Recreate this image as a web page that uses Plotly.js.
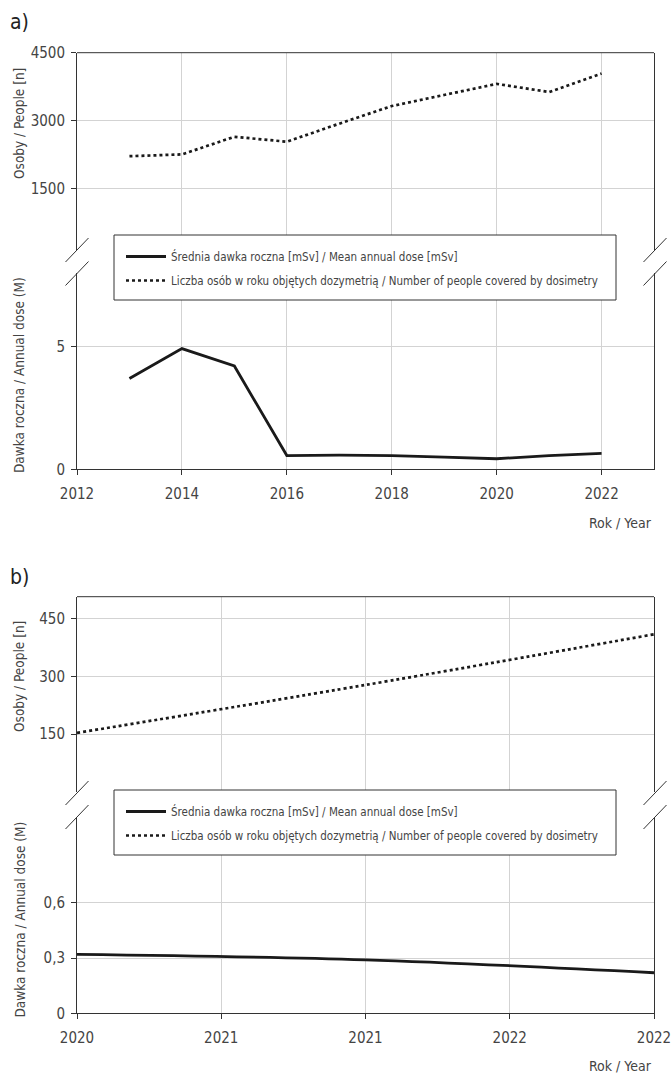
<!DOCTYPE html>
<html><head><meta charset="utf-8">
<script src="https://cdn.plot.ly/plotly-3.0.1.min.js"></script>
<style>html,body{margin:0;padding:0;background:#fff;}#chart{width:671px;height:1076px;}</style>
</head><body><div id="chart"></div>
<script>
// ---- data (panel a) ----
const yearsA = [2013, 2014, 2015, 2016, 2017, 2018, 2019, 2020, 2021, 2022];
const doseA = [3.70, 4.92, 4.21, 0.56, 0.58, 0.56, 0.50, 0.43, 0.56, 0.65];
const peopleA = [2210, 2250, 2640, 2530, 2930, 3320, 3565, 3810, 3630, 4040];
// ---- data (panel b) ----
const yearsB = [2020, 2021, 2022];
const doseB = [0.32, 0.29, 0.22];
const peopleB = [153, 278, 410];
// ---- ticks / labels ----
const xTicksA = [2012, 2014, 2016, 2018, 2020, 2022];
const xTickValsB = [2020, 2020.5, 2021, 2021.5, 2022];
const xTickTextB = ['2020', '2021', '2021', '2022', '2022'];
const yTicksPeopleA = [1500, 3000, 4500];
const yTicksDoseA = [0, 5];
const yTicksPeopleB = [150, 300, 450];
const yTicksDoseB = [0, 0.3, 0.6];
const yTickTextDoseB = ['0', '0,3', '0,6'];
const nameDose = 'Średnia dawka roczna [mSv] / Mean annual dose [mSv]';
const namePeople = 'Liczba osób w roku objętych dozymetrią / Number of people covered by dosimetry';
const titlePeople = 'Osoby / People [n]';
const titleDose = 'Dawka roczna / Annual dose (M)';
const titleX = 'Rok / Year';

const W = 671, H = 1076;
const fx = p => p / W;
const fy = p => 1 - p / H;
const FONT = "'DejaVu Sans Condensed', 'Liberation Sans Narrow', 'Liberation Sans', sans-serif";
const TXT = '#444';
const AX = '#333';
const LINE = '#1a1a1a';

const L = 77, R = 654;

const traces = [
  {x: yearsA, y: doseA, xaxis: 'x', yaxis: 'y2', mode: 'lines', name: nameDose, legend: 'legend', legendgroup: 'a1',
   line: {color: LINE, width: 2.8}},
  {x: yearsA, y: peopleA, xaxis: 'x', yaxis: 'y', mode: 'lines', name: namePeople, legend: 'legend', legendgroup: 'a2',
   line: {color: LINE, width: 2.7, dash: 'dot'}},
  {x: yearsB, y: doseB, xaxis: 'x2', yaxis: 'y4', mode: 'lines', name: nameDose, legend: 'legend2', legendgroup: 'b1',
   line: {color: LINE, width: 2.8, shape: 'spline'}},
  {x: yearsB, y: peopleB, xaxis: 'x2', yaxis: 'y3', mode: 'lines', name: namePeople, legend: 'legend2', legendgroup: 'b2',
   line: {color: LINE, width: 2.7, dash: 'dot', shape: 'spline'}}
];

const base = {
  showline: true, linecolor: AX, linewidth: 1, ticks: 'outside', ticklen: 5, tickcolor: AX, tickwidth: 1,
  showgrid: true, gridcolor: '#d3d3d3', gridwidth: 1, zeroline: false, fixedrange: true,
  tickfont: {family: FONT, size: 15, color: TXT}, ticklabelstandoff: 3, ticklabeloverflow: 'allow'
};

const slash = (cx, cy) => ({type: 'line', xref: 'paper', yref: 'paper',
  x0: fx(cx - 11.5), y0: fy(cy + 12), x1: fx(cx + 11.5), y1: fy(cy - 12),
  line: {color: AX, width: 1}, layer: 'above'});
const hline = (y) => ({type: 'line', xref: 'paper', yref: 'paper', x0: fx(L), x1: fx(R), y0: fy(y), y1: fy(y),
  line: {color: AX, width: 1}, layer: 'above'});
const box = (x0, y0, x1, y1) => ({type: 'rect', xref: 'paper', yref: 'paper', x0: fx(x0), x1: fx(x1), y0: fy(y1), y1: fy(y0),
  fillcolor: '#ffffff', line: {color: AX, width: 1}, layer: 'above'});

const ann = (text, x, y, opts) => Object.assign({text: text, xref: 'paper', yref: 'paper', x: fx(x), y: fy(y),
  xanchor: 'center', yanchor: 'middle', showarrow: false, font: {family: FONT, size: 13.5, color: TXT}}, opts || {});

const legendBase = {xanchor: 'left', yanchor: 'top', bgcolor: 'rgba(0,0,0,0)', borderwidth: 0,
  font: {family: FONT, size: 11.5, color: TXT}, itemwidth: 40, traceorder: 'grouped', tracegroupgap: 5};

const layout = {
  width: W, height: H, margin: {l: 0, r: 0, t: 0, b: 0, autoexpand: false},
  paper_bgcolor: '#fff', plot_bgcolor: '#fff', showlegend: true,
  xaxis: Object.assign({}, base, {domain: [fx(L), fx(R)], anchor: 'y2', range: [2012, 2023], tickvals: xTicksA, ticklabelstandoff: 6}),
  yaxis: Object.assign({}, base, {domain: [fy(250), fy(52.7)], anchor: 'x', range: [135, 4500], tickvals: yTicksPeopleA, mirror: true}),
  yaxis2: Object.assign({}, base, {domain: [fy(469.3), fy(273)], anchor: 'x', range: [0, 8], tickvals: yTicksDoseA, mirror: true}),
  xaxis2: Object.assign({}, base, {domain: [fx(L), fx(R)], anchor: 'y4', range: [2020, 2022], tickvals: xTickValsB, ticktext: xTickTextB, ticklabelstandoff: 6}),
  yaxis3: Object.assign({}, base, {domain: [fy(792), fy(596.7)], anchor: 'x2', range: [-1, 508], tickvals: yTicksPeopleB, mirror: true}),
  yaxis4: Object.assign({}, base, {domain: [fy(1013.3), fy(817)], anchor: 'x2', range: [0, 1.065], tickvals: yTicksDoseB, ticktext: yTickTextDoseB, mirror: true}),
  legend: Object.assign({}, legendBase, {x: fx(121), y: fy(242)}),
  legend2: Object.assign({}, legendBase, {x: fx(121), y: fy(797)}),
  shapes: [
    hline(52.7), hline(596.7),
    slash(L, 250), slash(L, 273.5), slash(R + 1, 250), slash(R + 1, 273.5),
    slash(L, 793), slash(L, 817), slash(R + 1, 793), slash(R + 1, 817),
    box(114, 235, 616, 300), box(114, 790, 616, 855)
  ],
  annotations: [
    ann('a)', 19, 21.7, {font: {family: FONT, size: 21, color: '#222'}}),
    ann('b)', 19, 576.7, {font: {family: FONT, size: 21, color: '#222'}}),
    ann(titlePeople, 19, 124, {textangle: -90}),
    ann(titleDose, 19, 375, {textangle: -90}),
    ann(titlePeople, 19, 677, {textangle: -90}),
    ann(titleDose, 19, 919.5, {textangle: -90}),
    ann(titleX, R, 523, {xanchor: 'right', font: {family: FONT, size: 14, color: TXT}}),
    ann(titleX, R, 1066, {xanchor: 'right', font: {family: FONT, size: 14, color: TXT}})
  ]
};

Plotly.newPlot('chart', traces, layout, {displayModeBar: false, staticPlot: true});
</script>
</body></html>
